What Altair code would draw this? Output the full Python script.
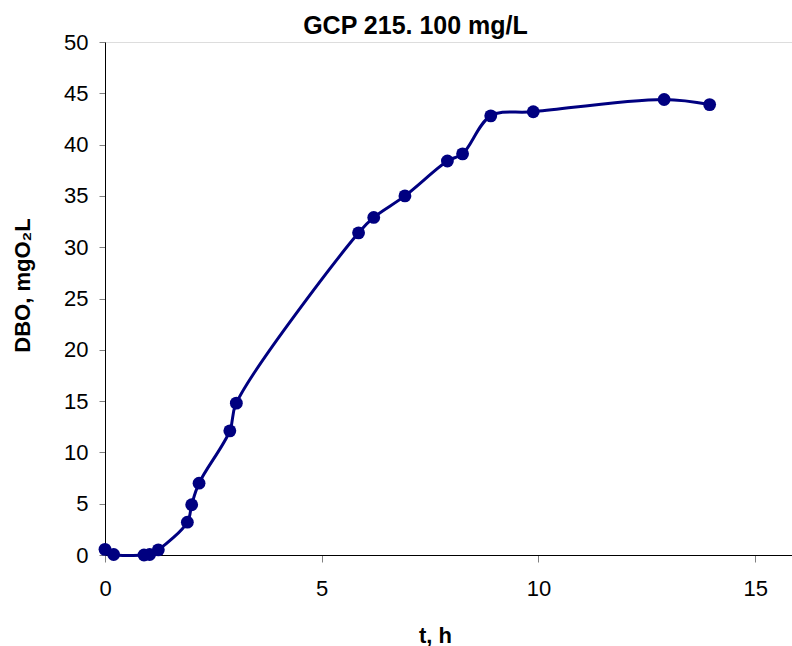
import altair as alt
import pandas as pd

t_hours = [0.0, 0.2, 0.9, 1.03, 1.23, 1.9, 2.0, 2.17, 2.88, 3.03, 5.85, 6.2, 6.92, 7.9, 8.25, 8.9, 9.88, 12.9, 13.95]
dbo = [0.55, 0.05, 0.0, 0.05, 0.5, 3.2, 4.9, 7.0, 12.1, 14.8, 31.4, 32.9, 35.0, 38.4, 39.1, 42.8, 43.2, 44.4, 43.9]
x_ticks = [0, 5, 10, 15]
y_ticks = [0, 5, 10, 15, 20, 25, 30, 35, 40, 45, 50]

df = pd.DataFrame({"t": t_hours, "dbo": dbo})

FONT = "Liberation Sans"
NAVY = "#000080"

x_enc = alt.X("t:Q", scale=alt.Scale(domain=[0, 15.85], nice=False, zero=False),
              axis=alt.Axis(title="t, h", values=x_ticks, grid=False,
                            domainColor="black", tickColor="#808080", tickSize=7,
                            labelFont=FONT, labelFontSize=22, labelColor="black",
                            labelPadding=16, labelFlush=False,
                            titleFont=FONT, titleFontSize=22, titleFontWeight="bold",
                            titleX=330, titleY=80, titleAlign="center", titleBaseline="middle"))
y_enc = alt.Y("dbo:Q", scale=alt.Scale(domain=[0, 50], nice=False),
              axis=alt.Axis(title="DBO, mgO₂L", values=y_ticks, grid=False,
                            domainColor="black", tickColor="#808080", tickSize=6,
                            labelFont=FONT, labelFontSize=22, labelColor="black",
                            labelPadding=11,
                            titleFont=FONT, titleFontSize=22, titleFontWeight="bold",
                            titleX=-83, titleY=243, titleAlign="center", titleBaseline="middle"))

line = alt.Chart(df).mark_line(color=NAVY, strokeWidth=3, interpolate="catmull-rom").encode(x=x_enc, y=y_enc)
pts = alt.Chart(df).mark_circle(color=NAVY, size=165, opacity=1).encode(x=x_enc, y=y_enc)

chart = (line + pts).properties(
    width=687, height=513,
    title=alt.TitleParams("GCP 215. 100 mg/L", font=FONT, fontSize=25, fontWeight="bold",
                          color="black", anchor="middle", dx=-33, offset=-8),
    autosize=alt.AutoSizeParams(type="none"),
    padding={"left": 105, "top": 42, "right": 0, "bottom": 91},
).configure_view(stroke=None).configure(background="white")

chart.save("out.html", embed_options={"renderer": "svg", "actions": False})
